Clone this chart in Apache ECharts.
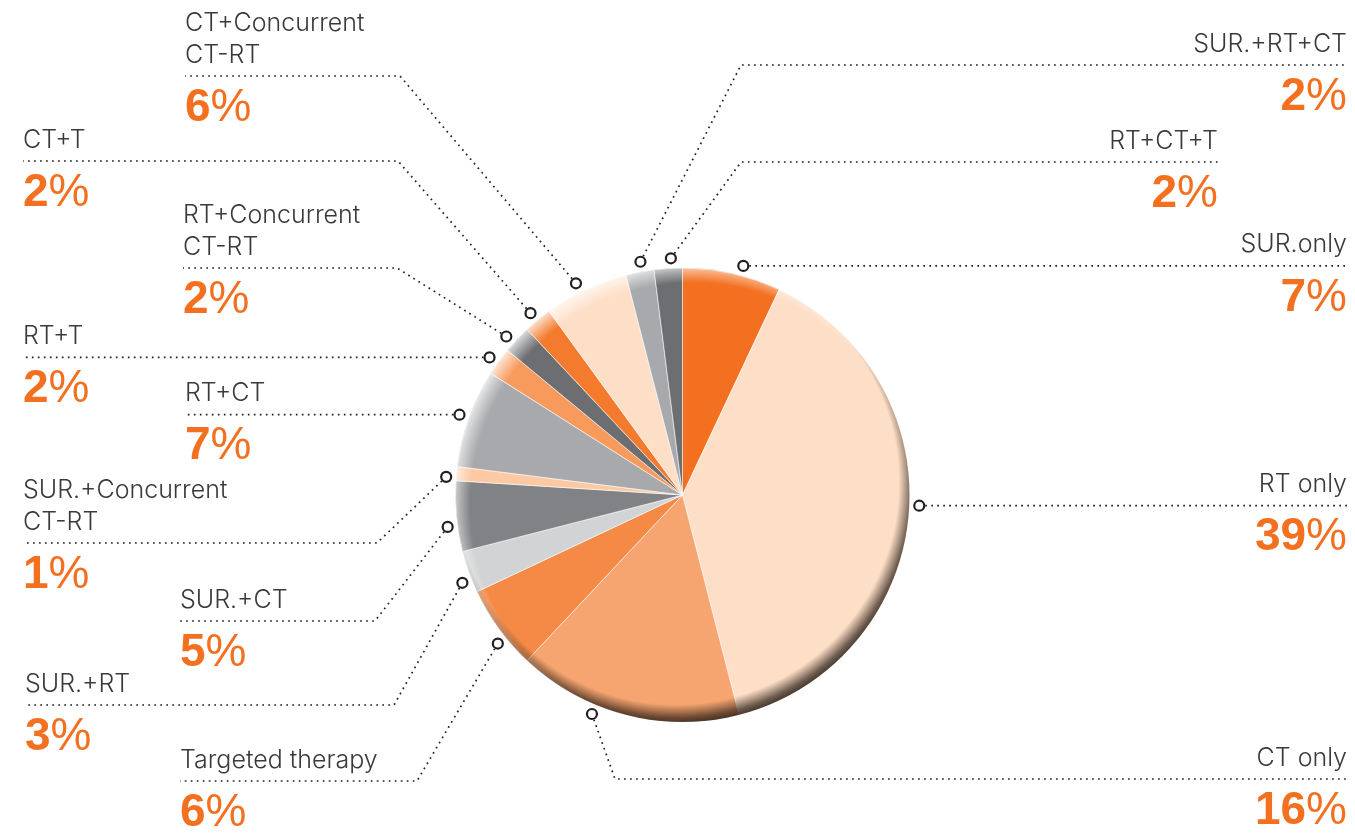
<!DOCTYPE html>
<html>
<head>
<meta charset="utf-8">
<title>Treatment share</title>
<script src="https://cdn.jsdelivr.net/npm/echarts@6/dist/echarts.min.js"></script>
<style>
html, body { margin: 0; padding: 0; background: #fff; }
#main { width: 1355px; height: 835px; }
</style>
</head>
<body>
<div id="main"></div>
<script>
// slices, clockwise from 12 o'clock
var treatments = ['SUR.only', 'RT only', 'CT only', 'Targeted therapy', 'SUR.+RT', 'SUR.+CT',
	'SUR.+Concurrent\nCT-RT', 'RT+CT', 'RT+T', 'RT+Concurrent\nCT-RT', 'CT+T',
	'CT+Concurrent\nCT-RT', 'SUR.+RT+CT', 'RT+CT+T'];
var percents = [7, 39, 16, 6, 3, 5, 1, 7, 2, 2, 2, 6, 2, 2];
var sliceColors = ['#F37021', '#FDDEC6', '#F7A570', '#F58A46', '#D1D3D4', '#808285',
	'#FDC9A3', '#A7A9AC', '#F79A5C', '#6D6E71', '#F47B2E', '#FDDEC6', '#A7A9AC', '#6D6E71'];

// label placement only (not data)
var labelSide = ['right', 'right', 'right', 'left', 'left', 'left', 'left', 'left', 'left', 'left', 'left', 'left', 'right', 'right'];
var labelX = [1347, 1347, 1347, 180, 25, 180, 23, 185, 23, 183, 23, 185, 1347, 1218];
var lineY = [null, null, 779, 781, 705, 621, 543, null, null, 268, 161, 76, 65, 162];
var elbowX = [null, null, 615, 417, 394, 375, 377, null, null, 397, 398, 400, 741, 741];
var markerAt = [0.59, 0.48, 0.64, 0.37, 0.32, 0.37, 0.22, 0.5, 0.43, 0.33, 0.46, 0.43, 0.58, 0.61];

var cx = 682.5, cy = 495, R = 227, markerR = 237;
var orange = '#F37021';

var total = 0;
for (var k = 0; k < percents.length; k++) total += percents[k];

// angle value (0..100, clockwise from top) where the marker of slice i sits
function markerValue(i) {
	var before = 0;
	for (var k = 0; k < i; k++) before += percents[k];
	return (before + percents[i] * markerAt[i]) / total * 100;
}

function markerPoint(i) {
	var a = markerValue(i) / 100 * Math.PI * 2;
	return [cx + markerR * Math.sin(a), cy - markerR * Math.cos(a)];
}

// soft rim shading: radial gradient whose centre is pushed away from "dir"
function rimGradient(dirDeg, d, rgb, stops) {
	var a = dirDeg / 180 * Math.PI;
	var ux = Math.sin(a), uy = -Math.cos(a);
	var s0 = (R - 0.342 * d) / (R + d);
	var colorStops = [{offset: 0, color: 'rgba(' + rgb + ',0)'}, {offset: s0, color: 'rgba(' + rgb + ',0)'}];
	for (var j = 0; j < stops.length; j++) {
		colorStops.push({offset: s0 + (1 - s0) * stops[j][0], color: 'rgba(' + rgb + ',' + stops[j][1] + ')'});
	}
	return {
		type: 'radial',
		x: 0.5 - d / (2 * R) * ux,
		y: 0.5 - d / (2 * R) * uy,
		r: (R + d) / (2 * R),
		colorStops: colorStops
	};
}

function rimSeries(color) {
	return {
		type: 'pie',
		silent: true,
		center: [cx, cy],
		radius: R,
		z: 3,
		label: {show: false},
		labelLine: {show: false},
		emphasis: {disabled: true},
		itemStyle: {color: color},
		data: [{value: 1}]
	};
}

var pieData = [];
for (var i = 0; i < treatments.length; i++) {
	pieData.push({name: treatments[i], value: percents[i], itemStyle: {color: sliceColors[i]}});
}

var markerData = [];
for (var i = 0; i < treatments.length; i++) {
	markerData.push([1, markerValue(i)]);
}

var option = {
	animation: false,
	backgroundColor: '#fff',
	polar: {center: [cx, cy], radius: markerR},
	angleAxis: {type: 'value', min: 0, max: 100, startAngle: 90, clockwise: true, show: false},
	radiusAxis: {type: 'value', min: 0, max: 1, show: false},
	series: [
		{
			type: 'pie',
			center: [cx, cy],
			radius: R,
			startAngle: 90,
			clockwise: true,
			avoidLabelOverlap: false,
			itemStyle: {borderColor: 'rgba(255,255,255,0.7)', borderWidth: 0.8},
			emphasis: {disabled: true},
			label: {
				show: true,
				position: 'outside',
				formatter: function (p) {
					return '{n|' + p.name + '}\n{p|' + p.value + '}{s|%}';
				},
				rich: {
					n: {fontFamily: 'Inter', fontSize: 25, fontWeight: 300, color: '#3a3a3a', lineHeight: 32},
					p: {fontFamily: 'Liberation Sans', fontSize: 46, fontWeight: 'bold', color: orange, lineHeight: 74},
					s: {fontFamily: 'Liberation Sans', fontSize: 46, fontWeight: 'normal', color: orange, lineHeight: 74}
				}
			},
			labelLine: {
				show: true,
				smooth: false,
				lineStyle: {color: '#231f20', width: 1.7, type: [1.7, 4.3]}
			},
			labelLayout: function (params) {
				var i = params.dataIndex;
				var m = markerPoint(i);
				var y = lineY[i] == null ? m[1] : lineY[i];
				var pts = [m];
				if (elbowX[i] != null) pts.push([elbowX[i], y]);
				pts.push([labelX[i], y]);
				return {
					x: labelX[i],
					y: y + 69,
					align: labelSide[i],
					verticalAlign: 'bottom',
					labelLinePoints: pts
				};
			},
			data: pieData
		},
		// dark rim toward the lower right
		rimSeries(rimGradient(155, 14, '40,28,20', [[0.35, 0.33], [0.7, 0.68], [1, 0.85]])),
		// light rim toward the upper left
		rimSeries(rimGradient(315, 14, '255,255,255', [[0.5, 0.35], [1, 0.75]])),
		{
			type: 'scatter',
			coordinateSystem: 'polar',
			z: 6,
			silent: true,
			symbol: 'circle',
			symbolSize: 10,
			itemStyle: {color: '#fff', borderColor: '#231f20', borderWidth: 2.2, opacity: 1},
			data: markerData
		}
	]
};

var chart = echarts.init(document.getElementById('main'));
chart.setOption(option);
</script>
</body>
</html>
